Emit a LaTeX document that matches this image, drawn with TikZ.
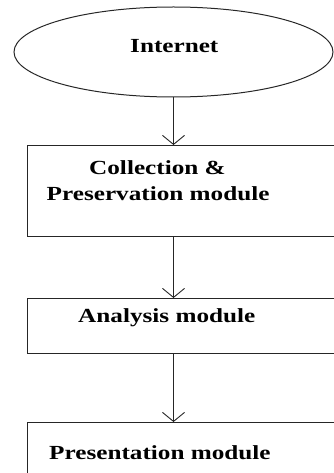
\documentclass[tikz,border=0pt]{standalone}
\usepackage{fontspec}
\usepackage{graphicx}
\setmainfont{Liberation Serif}
\usetikzlibrary{arrows.meta,shapes.geometric}
\tikzset{
  boxstyle/.style={draw=black!85, line width=1.2pt, rectangle, anchor=north west, inner sep=0pt},
  ellstyle/.style={draw=black!85, line width=1pt, ellipse, inner sep=0pt},
  lbl/.style={anchor=base west, inner sep=0pt, font=\fontsize{20}{24}\selectfont\bfseries},
  conn/.style={draw=black!85, line width=1pt, -{Straight Barb[length=9pt,width=22pt,line width=0.9pt]}}
}
\newcommand{\wide}[1]{\scalebox{1.26}[1]{#1}}
\begin{document}
\begin{tikzpicture}[x=1pt,y=-1pt]
\useasboundingbox (0,0) rectangle (334,473);
\clip (0,0) rectangle (334,473);
\node[ellstyle, minimum width=319pt, minimum height=90pt] (ell) at (173.5,52) {};
\node[boxstyle, minimum width=330pt, minimum height=91pt] (b1) at (26.7,145) {};
\node[boxstyle, minimum width=330pt, minimum height=55pt] (b2) at (26.7,298) {};
\node[boxstyle, minimum width=330pt, minimum height=80pt] (b3) at (26.7,422) {};
\node[lbl] (t0) at (130,53) {\wide{Internet}};
\node[lbl] (t1a) at (89,175) {\wide{Collection \&}};
\node[lbl] (t1b) at (46.5,200.5) {\wide{Preservation module}};
\node[lbl] (t2) at (78,322.5) {\wide{Analysis module}};
\node[lbl] (t3) at (49,459) {\wide{Presentation module}};
\draw[conn] (ell.south) -- (ell.south |- b1.north);
\draw[conn] (ell.south |- b1.south) -- (ell.south |- b2.north);
\draw[conn] (ell.south |- b2.south) -- (ell.south |- b3.north);
\end{tikzpicture}
\end{document}
